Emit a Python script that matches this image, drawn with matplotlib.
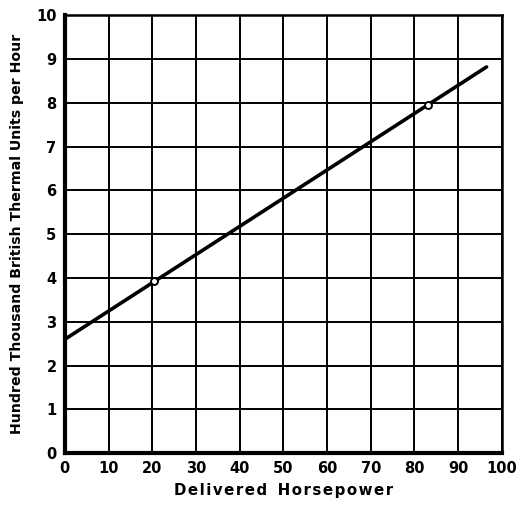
import matplotlib
matplotlib.use('Agg')
import matplotlib.pyplot as plt
import numpy as np

# curve ends and the two test points
line_hp = [0, 96.5]
line_btu = [2.6, 8.82]
point_hp = [20.4, 83.1]
point_btu = [3.93, 7.95]

x_ticks = [0, 10, 20, 30, 40, 50, 60, 70, 80, 90, 100]
y_ticks = [0, 1, 2, 3, 4, 5, 6, 7, 8, 9, 10]


def spaced(s):
    # hair spaces between letters, like the hand lettering
    return '\u200a'.join(s)


fig = plt.figure(figsize=(5.19, 5.08), dpi=100)
ax = fig.add_axes([0.125, 0.108, 0.842, 0.862])

ax.set_xlim(0, 100)
ax.set_ylim(0, 10)
ax.set_xticks(x_ticks)
ax.set_yticks(y_ticks)
ax.grid(True, color='black', linewidth=1.4)
ax.set_axisbelow(True)

ax.plot(line_hp, line_btu, color='black', linewidth=2.6, solid_capstyle='round', zorder=3)
ax.plot(point_hp, point_btu, linestyle='none', marker='o', markersize=5,
        markerfacecolor='white', markeredgecolor='black', markeredgewidth=1.4, zorder=4)

for side in ['left', 'bottom']:
    ax.spines[side].set_linewidth(3)
for side in ['top', 'right']:
    ax.spines[side].set_linewidth(1.8)

ax.tick_params(length=0, pad=6)
for lab in ax.get_xticklabels() + ax.get_yticklabels():
    lab.set_fontweight('bold')
    lab.set_fontsize(10.5)

ax.set_xlabel(spaced('Delivered') + '  ' + spaced('Horsepower'), fontsize=10.8,
              fontweight='bold', labelpad=5)
ax.set_ylabel('Hundred Thousand British Thermal Units per Hour', fontsize=10.2,
              fontweight='bold', labelpad=9)

fig.savefig('out.png', dpi=100)
